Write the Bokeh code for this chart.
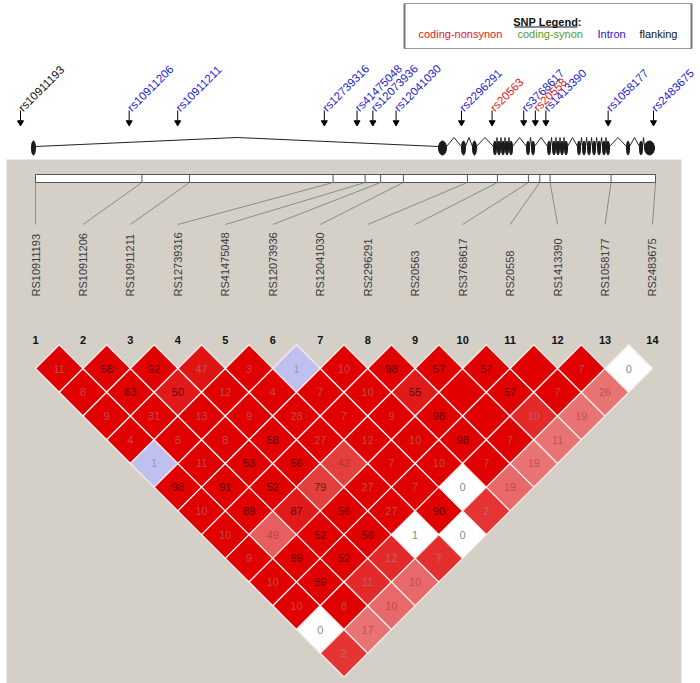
import math
from bokeh.plotting import figure
from bokeh.models import Range1d
from bokeh.embed import file_html
from bokeh.resources import INLINE
from bokeh.core.properties import value

# ---------------- data ----------------
snp_names = ["rs10911193", "rs10911206", "rs10911211", "rs12739316", "rs41475048",
             "rs12073936", "rs12041030", "rs2296291", "rs20563", "rs3768617",
             "rs20558", "rs1413390", "rs1058177", "rs2483675"]
snp_class = ["flanking", "intron", "intron", "intron", "intron", "intron", "intron",
             "intron", "coding-nonsynon", "intron", "coding-nonsynon", "intron",
             "intron", "intron"]
snp_pos_kb = [0.0, 10.3, 14.9, 28.8, 31.9, 33.4, 35.6, 41.8, 44.7, 47.7, 48.8, 49.8, 55.7, 60.0]

exon_start_kb = [1.04, 39.62, 41.80, 42.84, 44.83, 45.21, 45.59, 45.97, 46.35, 47.96, 48.44,
                 49.96, 50.43, 50.81, 51.19, 51.57, 52.80, 53.27, 53.75, 54.22, 54.70,
                 55.17, 55.55, 57.44, 58.67, 59.15]
exon_end_kb = [1.42, 40.38, 42.18, 43.22, 45.12, 45.50, 45.88, 46.26, 46.64, 48.25, 48.72,
               50.24, 50.71, 51.09, 51.47, 51.85, 53.08, 53.56, 54.03, 54.51, 54.98,
               55.45, 55.83, 57.73, 58.96, 60.10]

# LD values (x100) for SNP i with SNP j>i ; 100 = not displayed
ld_values = [
    [11, 8, 9, 4, 1, 98, 10, 10, 9, 10, 10, 0, 2],
    [58, 63, 31, 8, 11, 91, 89, 49, 89, 89, 8, 17],
    [92, 50, 13, 8, 53, 52, 87, 52, 52, 11, 10],
    [47, 12, 9, 58, 56, 79, 56, 56, 12, 10],
    [3, 4, 28, 27, 42, 27, 27, 1, 7],
    [1, 7, 7, 12, 7, 7, 90, 0],
    [10, 10, 9, 10, 10, 0, 2],
    [98, 55, 98, 98, 7, 19],
    [57, 100, 100, 7, 19],
    [57, 57, 10, 11],
    [100, 7, 19],
    [7, 26],
    [0],
]
# D' estimates (colour shade) for the same pairs
dprime = [
    [1, 1, 1, 1, 1, 1, 1, 1, 1, 1, 1, 0.4, 0.75],
    [1, 1, 1, 1, 1, 1, 1, 0.55, 1, 1, 1, 0.45],
    [1, 0.88, 1, 1, 1, 1, 0.88, 1, 1, 0.8, 0.5],
    [0.9, 1, 1, 1, 1, 0.7, 1, 1, 0.8, 0.5],
    [1, 1, 1, 1, 0.7, 1, 1, 0.4, 0.78],
    [1, 1, 1, 1, 1, 1, 1, 0.4],
    [1, 1, 1, 1, 1, 0.4, 0.75],
    [1, 0.88, 1, 1, 1, 0.5],
    [1, 1, 1, 1, 0.45],
    [1, 1, 0.8, 0.45],
    [1, 1, 0.45],
    [1, 0.45],
    [0.4],
]
# LOD >= 2 ?
lod_sig = [
    [1, 1, 1, 1, 0, 1, 1, 1, 1, 1, 1, 0, 1],
    [1, 1, 1, 1, 1, 1, 1, 1, 1, 1, 1, 1],
    [1, 1, 1, 1, 1, 1, 1, 1, 1, 1, 1],
    [1, 1, 1, 1, 1, 1, 1, 1, 1, 1],
    [1, 1, 1, 1, 1, 1, 1, 0, 1],
    [0, 1, 1, 1, 1, 1, 1, 0],
    [1, 1, 1, 1, 1, 0, 1],
    [1, 1, 1, 1, 1, 1],
    [1, 1, 1, 1, 1],
    [1, 1, 1, 1],
    [1, 1, 1],
    [1, 1],
    [0],
]

legend_labels = ["coding-nonsynon", "coding-synon", "Intron", "flanking"]
legend_colors = ["#dd1818", "#4f9a2c", "#2020d0", "#111111"]
class_color = {"coding-nonsynon": "#dd1818", "coding-synon": "#4f9a2c",
               "intron": "#2222cc", "flanking": "#111111"}

# ---------------- layout helpers ----------------
def gx(kb):          # gene track scale
    return 20 + kb * 633.0 / 60.0

def bx(kb):          # marker bar scale
    return 35 + kb * 620.0 / 60.0

n = len(snp_names)
step = 47.46
half = step / 2.0
col_x = [35 + step * i for i in range(n)]
row0_y = 368.0

FONT = value("Liberation Sans")
W, H = 700, 683

p = figure(width=W, height=H, x_range=Range1d(0, W), y_range=Range1d(H, 0),
           output_backend="svg", toolbar_location=None, min_border=0)
p.axis.visible = False
p.grid.visible = False
p.outline_line_color = None
p.background_fill_color = "white"
p.border_fill_color = "white"

# ---------------- legend box ----------------
p.quad(left=[404], right=[691], top=[3], bottom=[48], fill_color="white",
       line_color="#9a9a9a", line_width=1)
p.segment(x0=[404, 691], y0=[3, 3], x1=[404, 691], y1=[48, 48], line_color="#777777", line_width=2)
p.text(x=[547], y=[21], text=["SNP Legend:"], text_font=FONT, text_font_size="11px",
       text_font_style="bold", text_align="center", text_baseline="middle", text_color="#111111")
p.segment(x0=[514], y0=[26.5], x1=[577], y1=[26.5], line_color="#111111", line_width=1)
leg_x = [418, 517, 597, 639]
p.text(x=leg_x, y=[33] * 4, text=legend_labels, text_font=FONT, text_font_size="11px",
       text_align="left", text_baseline="middle", text_color=legend_colors)

# ---------------- gene track ----------------
ax = [gx(v) for v in snp_pos_kb]
p.segment(x0=ax, y0=[110] * n, x1=ax, y1=[120] * n, line_color="black", line_width=1)
p.scatter(x=ax, y=[122] * n, marker="inverted_triangle", size=6, color="black")
p.text(x=[a for a in ax], y=[109] * n, text=snp_names, angle=math.pi / 4,
       text_font=FONT, text_font_size="11.5px", text_align="left", text_baseline="middle",
       text_color=[class_color[c] for c in snp_class])

ixs, iys = [], []
for k in range(len(exon_start_kb) - 1):
    a = gx(exon_end_kb[k])
    b = gx(exon_start_kb[k + 1])
    ixs.append([a, (a + b) / 2.0, b])
    iys.append([146, 137, 146])
p.multi_line(xs=ixs, ys=iys, line_color="#222222", line_width=1)
p.ellipse(x=[(gx(a) + gx(b)) / 2.0 for a, b in zip(exon_start_kb, exon_end_kb)],
          y=[147.5] * len(exon_start_kb),
          width=[max(3.0, gx(b) - gx(a)) for a, b in zip(exon_start_kb, exon_end_kb)],
          height=[14] * len(exon_start_kb), fill_color="#1a1a1a", line_color="#1a1a1a")

# ---------------- tan panel ----------------
p.quad(left=[6], right=[681], top=[159], bottom=[H + 5], fill_color="#d4d0c8", line_color=None)

# marker bar
p.quad(left=[bx(snp_pos_kb[0])], right=[bx(snp_pos_kb[-1])], top=[174], bottom=[182],
       fill_color="white", line_color="#555555", line_width=1)
tx = [bx(v) for v in snp_pos_kb]
p.segment(x0=tx, y0=[174] * n, x1=tx, y1=[182] * n, line_color="#555555", line_width=1)
p.segment(x0=tx, y0=[182] * n, x1=col_x, y1=[224] * n, line_color="#8a8a8a", line_width=1)
p.text(x=col_x, y=[296] * n, text=[s.upper() for s in snp_names], angle=math.pi / 2,
       text_font=FONT, text_font_size="11px", text_align="left", text_baseline="middle",
       text_color="#3a3a3a")

# column numbers
p.text(x=col_x, y=[339] * n, text=[str(i + 1) for i in range(n)], text_font=FONT,
       text_font_size="11px", text_font_style="bold", text_align="center",
       text_baseline="middle", text_color="#111111")

# ---------------- LD diamonds ----------------
def cell_rgb(dp, sig):
    if not sig:
        return (192, 192, 240) if dp >= 1 else (255, 255, 255)
    r = 224 + int(16 * (1 - dp))
    g = int(210 * (1 - dp))
    return (r, g, g)

def hexc(c):
    return "#%02x%02x%02x" % tuple(int(max(0, min(255, v))) for v in c)

xs, ys, fills, tx_, ty_, tt, tc = [], [], [], [], [], [], []
for i in range(n - 1):
    for k, v in enumerate(ld_values[i]):
        j = i + 1 + k
        cx = (col_x[i] + col_x[j]) / 2.0
        cy = row0_y + (j - i - 1) * half
        xs.append([cx, cx + half, cx, cx - half])
        ys.append([cy - half, cy, cy + half, cy])
        rgb = cell_rgb(dprime[i][k], lod_sig[i][k])
        fills.append(hexc(rgb))
        if v < 100:
            if v >= 50:
                t = tuple(c * 0.42 for c in rgb)
            elif rgb[1] > 180:
                t = (140, 140, 140) if rgb[0] > 200 else (150, 150, 190)
            elif rgb[1] > 60:
                t = (rgb[0] * 0.85, rgb[1] * 0.72, rgb[2] * 0.72)
            else:
                t = tuple(c * 0.55 + 160 * 0.45 for c in rgb)
            tx_.append(cx)
            ty_.append(cy)
            tt.append(str(v))
            tc.append(hexc(t))

p.patches(xs=xs, ys=ys, fill_color=fills, line_color="#fbeaea", line_width=1.3)
p.text(x=tx_, y=ty_, text=tt, text_color=tc, text_font=FONT, text_font_size="11px",
       text_align="center", text_baseline="middle")

open("out.html", "w").write(file_html(p, INLINE))
